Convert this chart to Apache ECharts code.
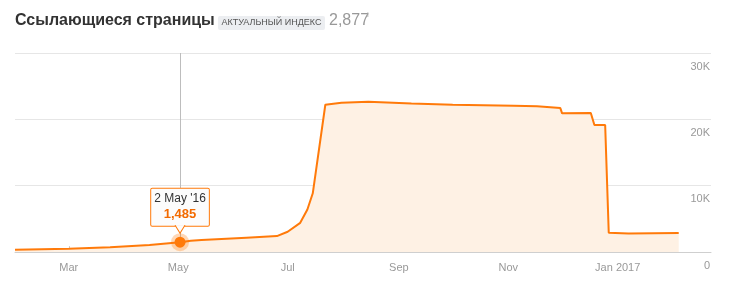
<!DOCTYPE html>
<html><head><meta charset="utf-8">
<script src="https://cdn.jsdelivr.net/npm/echarts@6/dist/echarts.min.js"></script>
<style>html,body{margin:0;padding:0;background:#fff;}#c{width:729px;height:286px;}</style>
</head><body><div id="c"></div>
<script>
var dates = ['2016-01-31','2016-02-15','2016-03-01','2016-03-24','2016-04-15','2016-05-02','2016-05-08','2016-05-14','2016-06-08','2016-06-25','2016-07-01','2016-07-08','2016-07-12','2016-07-15','2016-07-22','2016-07-31','2016-08-15','2016-09-08','2016-10-01','2016-11-04','2016-11-17','2016-11-30','2016-12-01','2016-12-17','2016-12-19','2016-12-25','2016-12-27','2017-01-07','2017-02-04'];
var values = [350,420,500,700,1050,1485,1700,1800,2150,2400,3060,4400,6400,8850,22200,22500,22660,22400,22200,22060,21960,21700,20900,20950,19150,19150,2900,2800,2877];
var xTickDates = ['2016-03-01','2016-05-01','2016-07-01','2016-09-01','2016-11-01','2017-01-01'];
var xTickLabels = ['Mar','May','Jul','Sep','Nov','Jan 2017'];
var yTicks = [0,10000,20000,30000];
var highlightDate = '2016-05-02';
var highlightValue = 1485;
var titleText = 'Ссылающиеся страницы';
var badgeText = 'АКТУАЛЬНЫЙ ИНДЕКС';
var totalText = '2,877';
var monthShort = ['Jan','Feb','Mar','Apr','May','Jun','Jul','Aug','Sep','Oct','Nov','Dec'];

function ts(s){var p=s.split('-');return new Date(+p[0],+p[1]-1,+p[2]).getTime();}
var lineData = dates.map(function(d,i){return [ts(d),values[i]];});
var tickTs = xTickDates.map(ts);
var hd = new Date(ts(highlightDate));
var hlTitle = hd.getDate()+' '+monthShort[hd.getMonth()]+" '"+String(hd.getFullYear()).slice(2);
var hlValue = highlightValue.toLocaleString('en-US');
var ORANGE = '#ff7a0a';
var DARKOR = '#f26a00';
var FONT = '"Liberation Sans", Arial, sans-serif';

var chart = echarts.init(document.getElementById('c'));
chart.setOption({
  animation:false,
  textStyle:{fontFamily:FONT},
  grid:{left:15,right:18,top:53,bottom:34},
  xAxis:{type:'value',min:ts('2016-01-31'),max:ts('2017-02-22'),
    axisLine:{lineStyle:{color:'#cfcfcf'}},
    splitLine:{show:false},
    axisTick:{show:true,inside:true,length:6,lineStyle:{color:'#d0d0d0'},customValues:tickTs},
    axisLabel:{customValues:tickTs,color:'#999',fontSize:11,margin:10,fontFamily:FONT,
      formatter:function(v){var i=tickTs.indexOf(v);return i>=0?xTickLabels[i]:'';}}
  },
  yAxis:{type:'value',position:'right',min:0,max:30000,interval:10000,
    axisLine:{show:false},axisTick:{show:false},
    splitLine:{lineStyle:{color:'#e6e6e6'}},
    axisLabel:{inside:true,margin:1,color:'#999',fontSize:11,fontFamily:FONT,verticalAlign:'top',padding:[8,0,0,0],
      formatter:function(v){return v===0?'0':(v/1000)+'K';}}
  },
  series:[
    {type:'line',data:lineData,symbol:'none',z:2,
      lineStyle:{color:ORANGE,width:2},
      areaStyle:{color:'#fef1e4',opacity:1},
      markLine:{silent:true,z:1,symbol:'none',label:{show:false},lineStyle:{color:'#bdbdbd',width:1,type:'solid'},
        data:[{xAxis:ts(highlightDate)}]}
    },
    {type:'scatter',z:3,data:[[ts(highlightDate),highlightValue]],symbolSize:18,
      itemStyle:{color:'rgba(255,122,10,0.3)',opacity:1}},
    {type:'scatter',z:4,data:[[ts(highlightDate),highlightValue]],symbolSize:11,
      itemStyle:{color:ORANGE,opacity:1},
      label:{show:true,position:'top',distance:11,
        formatter:function(){return '{a|'+hlTitle+'}\n{b|'+hlValue+'}';},
        backgroundColor:'#fcfcfc',borderColor:ORANGE,borderWidth:1,borderRadius:1,padding:[3,3,3,3],
        rich:{a:{fontSize:12,color:'#333',lineHeight:15,align:'center',fontFamily:FONT},
              b:{fontSize:13,color:DARKOR,fontWeight:'bold',lineHeight:16,align:'center',fontFamily:FONT}}}
    },
    {type:'scatter',z:10,data:[[ts(highlightDate),highlightValue]],
      symbol:'path://M0,0 L5,7 L10,0',symbolSize:[10,8],symbolOffset:[0,-13],
      itemStyle:{color:'#fcfcfc',borderColor:ORANGE,borderWidth:1,opacity:1}}
  ],
  graphic:[
    {type:'text',left:15,top:13,style:{text:titleText,font:'bold 16px '+FONT,fill:'#333'}},
    {type:'rect',shape:{x:218,y:16,width:107,height:14,r:2},style:{fill:'#eceef1'}},
    {type:'text',x:271.5,y:23,style:{text:badgeText,font:'9px '+FONT,fill:'#555',align:'center',verticalAlign:'middle'}},
    {type:'text',x:329,y:21,style:{text:totalText,font:'16px '+FONT,fill:'#999',verticalAlign:'middle'}},
    {type:'text',x:367,y:15,style:{text:'i',font:'8px '+FONT,fill:'#aaa',verticalAlign:'middle'}}
  ]
});
</script></body></html>
